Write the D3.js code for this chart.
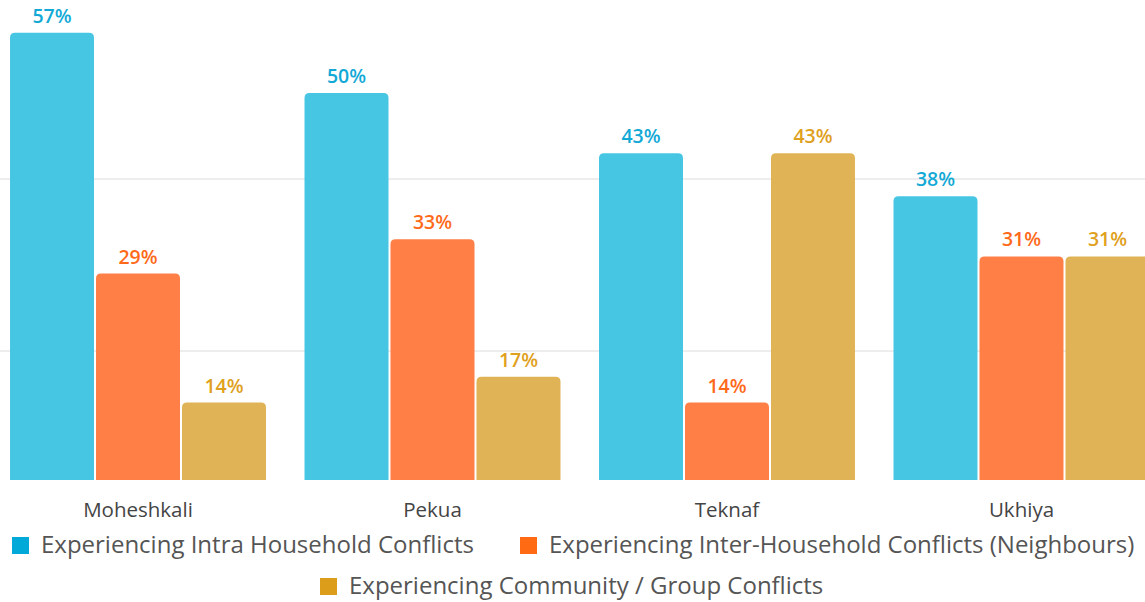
<html>
<head>
<meta charset="utf-8">
<script src="https://cdn.jsdelivr.net/npm/d3@7"></script>
<style>
  body { margin: 0; background: #fff; }
  text { font-family: "Open Sans", sans-serif; }
</style>
</head>
<body>
<div id="chart"></div>
<script>
// data
const districts = ["Moheshkali", "Pekua", "Teknaf", "Ukhiya"];
const seriesNames = [
  "Experiencing Intra Household Conflicts",
  "Experiencing Inter-Household Conflicts (Neighbours)",
  "Experiencing Community / Group Conflicts"
];
const intraValues = [57, 50, 43, 38];
const interValues = [29, 33, 14, 31];
const communityValues = [14, 17, 43, 31];
const gridTicks = [20, 40];

const swatchColors = ["#00a9d8", "#ff6a13", "#dc9e1a"];
const barColors = ["#47c6e4", "#ff7f47", "#e0b456"];
const labelColors = ["#12a9d6", "#ff6a1a", "#e0a020"];

const width = 1145, height = 602;
const svg = d3.select('#chart').append('svg').attr('width', width).attr('height', height);

const rows = districts.map((d, i) => ({
  name: d,
  vals: [intraValues[i], interValues[i], communityValues[i]]
}));

const x0 = d3.scaleBand().domain(districts)
  .range([-9.25, 1168.75])
  .paddingInner(38.5 / 294.5)
  .paddingOuter(0.0654);
const x1 = d3.scaleBand().domain([0, 1, 2])
  .range([0, x0.bandwidth()])
  .paddingInner(2 / 86);
const y = d3.scaleLinear().domain([5, 60]).range([480, 7]);

// grid lines
svg.append('g').selectAll('line').data(gridTicks).enter().append('line')
  .attr('x1', 0).attr('x2', width)
  .attr('y1', d => y(d)).attr('y2', d => y(d))
  .attr('stroke', '#dcdcdc').attr('stroke-width', 1);

function topRounded(x, yTop, w, h, r) {
  return `M${x},${yTop + h}V${yTop + r}Q${x},${yTop} ${x + r},${yTop}H${x + w - r}Q${x + w},${yTop} ${x + w},${yTop + r}V${yTop + h}Z`;
}

const groups = svg.append('g').selectAll('g').data(rows).enter().append('g')
  .attr('transform', d => `translate(${x0(d.name)},0)`);

groups.selectAll('path').data(d => d.vals).enter().append('path')
  .attr('d', (v, i) => topRounded(x1(i), y(v), x1.bandwidth(), y(5) - y(v), 5))
  .attr('fill', (v, i) => barColors[i]);

groups.selectAll('text.val').data(d => d.vals).enter().append('text')
  .attr('class', 'val')
  .attr('x', (v, i) => x1(i) + x1.bandwidth() / 2)
  .attr('y', v => y(v) - 10)
  .attr('text-anchor', 'middle')
  .attr('font-size', 19.5).attr('font-weight', 600)
  .attr('fill', (v, i) => labelColors[i])
  .text(v => v + '%');

// category labels
svg.append('g').selectAll('text').data(districts).enter().append('text')
  .attr('x', d => x0(d) + x0.bandwidth() / 2)
  .attr('y', 517)
  .attr('text-anchor', 'middle')
  .attr('font-size', 20.5).attr('fill', '#444')
  .text(d => d);

// legend
const legendPos = [[12, 553], [520, 553], [320, 594]];
const legend = svg.append('g').selectAll('g').data(seriesNames).enter().append('g')
  .attr('transform', (d, i) => `translate(${legendPos[i][0]},${legendPos[i][1]})`);
legend.append('rect').attr('x', 0).attr('y', -16).attr('width', 17).attr('height', 17)
  .attr('fill', (d, i) => swatchColors[i]);
legend.append('text').attr('x', 29).attr('y', 0)
  .attr('font-size', 24).attr('fill', '#555')
  .text(d => d);
</script>
</body>
</html>
